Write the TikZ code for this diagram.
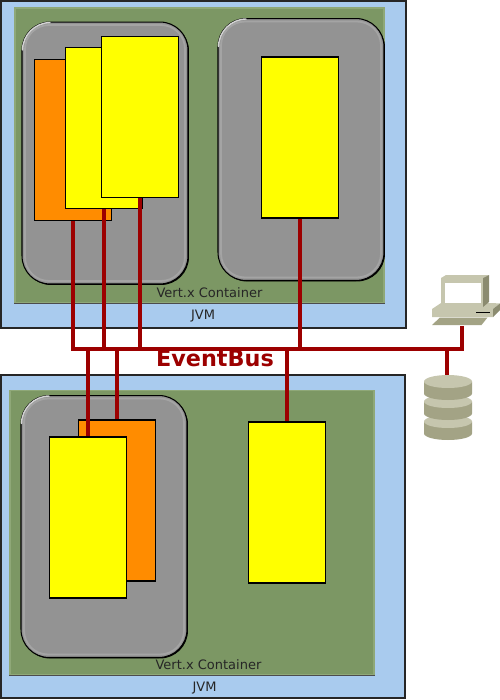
\documentclass[tikz,border=0pt]{standalone}
\usepackage{fontspec}
\setmainfont{DejaVu Sans}
\definecolor{jvmblue}{HTML}{A9CBEE}
\definecolor{contgreen}{HTML}{7C9764}
\definecolor{contlight}{HTML}{8FA878}
\definecolor{modgray}{HTML}{939393}
\definecolor{modlight}{HTML}{A4A4A4}
\definecolor{busred}{HTML}{9C0000}
\definecolor{hostlight}{HTML}{C6C6AE}
\definecolor{hostdark}{HTML}{A3A385}
\definecolor{hostshade}{HTML}{8B8B70}
\definecolor{verticle}{HTML}{FFFF00}
\definecolor{worker}{HTML}{FF8C00}
\tikzset{%
  myjvm/.style={rectangle, draw=black!85, line width=0.8pt, fill=jvmblue, inner sep=0pt},
  mycont/.style={rectangle, fill=contgreen, draw=contlight, line width=1pt, inner sep=0pt},
  myshadow/.style={rectangle, rounded corners=0.56cm, fill=black, inner sep=0pt, minimum width=3.32cm, minimum height=5.24cm},
  mymod/.style={rectangle, rounded corners=0.56cm, draw=black, line width=0.6pt, fill=modgray, inner sep=0pt, minimum width=3.32cm, minimum height=5.24cm},
  mybevel/.style={rectangle, rounded corners=0.48cm, draw=modlight, line width=1pt, inner sep=0pt, minimum width=3.2cm, minimum height=5.12cm},
  myglint/.style={draw=white!60!modgray, line width=0.8pt},
  myverticle/.style={rectangle, draw=black, line width=0.8pt, fill=verticle, inner sep=0pt, minimum width=1.54cm, minimum height=3.22cm},
  myworker/.style={myverticle, fill=worker},
  mybus/.style={draw=busred, line width=2.27pt},
  mylabel/.style={font=\fontsize{7.4}{8}\selectfont, text=black!85, inner sep=0pt}
}

\begin{document}
\begin{tikzpicture}[x=0.02cm, y=-0.02cm]
  \useasboundingbox (0,0) rectangle (500,700);
  % upper jvm
  \node[myjvm, minimum width=8.1cm, minimum height=6.54cm] (jvma) at (203.5,164.5) {};
  \node[mycont, minimum width=7.38cm, minimum height=5.9cm] (conta) at (199.5,155.5) {};
  \draw[black!70, line width=0.7pt] (conta.south west) -- (conta.south east);
  % upper modules
  \node[myshadow] (shadea) at (106,154) {};
  \node[mymod] (moda) at (105,153) {};
  \node[mybevel] (bevela) at (105,153) {};
  \node[myshadow] (shadeb) at (302,150.5) {};
  \node[mymod] (modb) at (301,149.5) {};
  \node[mybevel] (bevelb) at (301,149.5) {};
  \node[myworker] (wa) at (73,140) {};
  \node[myverticle] (va) at (104,128) {};
  \node[myverticle] (vb) at (140,117) {};
  \node[myverticle] (vc) at (300,137.5) {};
  \node[mylabel] (conttexta) at (209.5,293) {Vert.x Container};
  \node[mylabel] (jvmtexta) at (203,316) {JVM};
  % lower jvm
  \node[myjvm, minimum width=8.08cm, minimum height=6.46cm] (jvmb) at (203,536.5) {};
  \node[mycont, minimum width=7.28cm, minimum height=5.68cm] (contb) at (192,532.5) {};
  \draw[black!70, line width=0.7pt] (contb.south west) -- (contb.south east);
  % lower modules
  \node[myshadow] (shadec) at (105,527.5) {};
  \node[mymod] (modc) at (104,526.5) {};
  \node[mybevel] (bevelc) at (104,526.5) {};
  \node[myworker] (wb) at (117,500.5) {};
  \node[myverticle] (vd) at (88,517.5) {};
  \node[myverticle] (ve) at (287,502.5) {};
  \node[mylabel] (conttextb) at (208.5,665) {Vert.x Container};
  \node[mylabel] (jvmtextb) at (204.5,688) {JVM};
  % corner highlights
  \foreach \m in {moda,modb,modc} {
    \draw[myglint] ([xshift=0.02cm,yshift=-0.58cm]\m.north west) arc[start angle=180, end angle=270, radius=28];
  }
  % computer
  \fill[hostlight] (432,309) -- (441,303) -- (492,303) -- (500,303.5) -- (493,309) -- (493,317) -- (432,317) -- cycle;
  \fill[hostshade] (493,309) -- (500,303.5) -- (500,310) -- (493,317) -- cycle;
  \fill[hostdark] (432,325) -- (440,317.5) -- (487.5,317.5) -- (481.5,325) -- cycle;
  \fill[hostlight] (441,278) -- (446,275) -- (489,275) -- (483,278) -- cycle;
  \fill[hostlight] (441,278) rectangle (483,307);
  \fill[hostshade] (483,278) -- (489,275) -- (489,302) -- (483,307) -- cycle;
  \fill[white] (445,283) rectangle (481,303);
  \draw[black, line width=0.6pt] (476,312.5) -- (490,312.5);
  % database
  \foreach \cy in {421.5,401.5,381.5} {
    \fill[hostdark] (424,\cy) -- (424,\cy+12) arc[start angle=180, end angle=360, x radius=24, y radius=-6.5] -- (472,\cy) -- cycle;
    \fill[hostlight] (448,\cy) ellipse [x radius=24, y radius=6.5];
  }
  % bus
  \coordinate (busl) at (73,349);
  \coordinate (busr) at (462,349);
  \coordinate (pc) at (462,326);
  \coordinate (db) at (447,375);
  \draw[mybus] (wa.south) -- (busl) -- (busr) -- (pc);
  \draw[mybus] (va.south) -- (va.south |- busl);
  \draw[mybus] (vb.south) -- (vb.south |- busl);
  \draw[mybus] (vc.south) -- (vc.south |- busl);
  \draw[mybus] (vd.north |- busl) -- (vd.north);
  \draw[mybus] (wb.north |- busl) -- (wb.north);
  \draw[mybus] (ve.north |- busl) -- (ve.north);
  \draw[mybus] (db |- busl) -- (db);
  \node[font=\fontsize{12.7}{14}\selectfont\bfseries, text=busred, inner sep=0pt] (bustext) at (215,358.5) {EventBus};
\end{tikzpicture}
\end{document}
